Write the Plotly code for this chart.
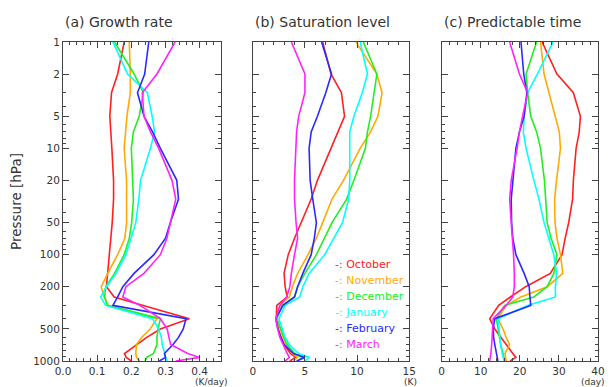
import plotly.graph_objects as go

# Pressure levels (hPa)
levels = [1000, 925, 850, 700, 600, 500, 400, 300, 250, 200, 150, 100, 70, 50, 30, 20, 10, 7, 5, 3, 2, 1]
months = ["October", "November", "December", "January", "February", "March"]
colors = ["#ff2020", "#ffaa00", "#22ee22", "#00ffff", "#2a2aff", "#ff22ff"]

# (a) Growth rate (K/day)
growth_oct = [0.20, 0.185, 0.18, 0.215, 0.245, 0.285, 0.37, 0.235, 0.15, 0.127, 0.131, 0.136, 0.141, 0.144, 0.148, 0.148, 0.143, 0.14, 0.137, 0.142, 0.16, 0.179]
growth_nov = [0.225, 0.215, 0.213, 0.215, 0.23, 0.255, 0.275, 0.133, 0.12, 0.112, 0.131, 0.16, 0.181, 0.186, 0.186, 0.186, 0.179, 0.182, 0.187, 0.197, 0.197, 0.194]
growth_dec = [0.24, 0.245, 0.265, 0.275, 0.275, 0.278, 0.285, 0.13, 0.122, 0.125, 0.151, 0.179, 0.194, 0.201, 0.206, 0.203, 0.2, 0.206, 0.223, 0.235, 0.208, 0.151]
growth_jan = [0.305, 0.30, 0.298, 0.29, 0.288, 0.28, 0.262, 0.125, 0.11, 0.127, 0.155, 0.184, 0.199, 0.213, 0.222, 0.227, 0.256, 0.268, 0.261, 0.247, 0.189, 0.146]
growth_feb = [0.282, 0.30, 0.297, 0.322, 0.338, 0.352, 0.36, 0.146, 0.16, 0.175, 0.208, 0.266, 0.30, 0.314, 0.338, 0.333, 0.285, 0.262, 0.237, 0.218, 0.239, 0.251]
growth_mar = [0.33, 0.40, 0.365, 0.315, 0.31, 0.305, 0.285, 0.225, 0.175, 0.184, 0.237, 0.285, 0.304, 0.314, 0.33, 0.319, 0.28, 0.256, 0.237, 0.232, 0.275, 0.328]

# (b) Saturation level (K)
sat_oct = [3.55, 4.1, 3.6, 3.0, 2.7, 2.45, 2.25, 2.3, 3.3, 3.1, 3.0, 3.4, 4.0, 4.65, 5.6, 6.2, 7.5, 8.1, 8.8, 8.5, 7.5, 6.7]
sat_nov = [3.9, 4.3, 3.8, 3.2, 2.9, 2.6, 2.3, 2.6, 3.5, 3.8, 4.3, 5.3, 6.1, 6.7, 7.6, 8.7, 10.3, 11.3, 12.0, 12.4, 11.9, 9.9]
sat_dec = [4.3, 4.7, 4.0, 3.3, 3.0, 2.7, 2.3, 2.8, 4.0, 4.3, 5.0, 6.1, 6.9, 7.6, 9.0, 9.7, 10.8, 11.0, 11.3, 11.6, 11.9, 10.6]
sat_jan = [5.0, 5.4, 4.4, 3.5, 3.1, 2.8, 2.5, 3.1, 4.5, 4.8, 5.4, 6.9, 7.8, 8.6, 9.2, 9.3, 9.3, 9.3, 9.7, 10.5, 11.0, 10.3]
sat_feb = [4.2, 5.0, 3.9, 3.0, 2.7, 2.4, 2.2, 2.9, 4.0, 4.3, 4.8, 5.6, 5.9, 6.1, 5.75, 5.5, 5.4, 5.6, 6.2, 7.0, 7.55, 6.6]
sat_mar = [3.1, 3.5, 3.3, 2.9, 2.6, 2.4, 2.2, 2.6, 3.25, 3.55, 3.7, 4.0, 4.3, 4.15, 4.0, 4.0, 4.1, 4.2, 4.4, 5.0, 5.0, 3.7]

# (c) Predictable time (day)
pred_oct = [17.5, 19.0, 18.2, 16.5, 15.0, 13.6, 12.3, 14.6, 17.6, 21.5, 27.8, 30.8, 31.6, 32.5, 33.5, 33.7, 34.4, 35.2, 35.5, 33.7, 29.5, 25.7]
pred_nov = [16.5, 16.3, 16.2, 17.4, 16.5, 15.7, 14.4, 16.5, 20.3, 27.0, 31.0, 30.4, 29.5, 29.0, 28.9, 29.4, 30.4, 30.1, 29.1, 27.4, 26.2, 25.3]
pred_dec = [16.1, 16.0, 15.7, 15.1, 14.8, 14.4, 14.0, 16.1, 23.6, 27.0, 28.7, 29.5, 28.0, 27.0, 26.6, 26.3, 25.3, 24.3, 22.8, 22.0, 21.6, 24.3]
pred_jan = [16.0, 15.7, 15.5, 15.1, 14.9, 14.8, 14.4, 22.0, 29.1, 29.1, 29.4, 28.7, 27.4, 26.2, 24.9, 23.6, 21.6, 20.9, 21.1, 22.0, 24.5, 28.5]
pred_feb = [14.4, 14.2, 14.0, 13.6, 13.3, 13.2, 13.6, 22.8, 22.6, 22.4, 21.1, 19.0, 18.2, 17.9, 17.8, 18.2, 19.0, 19.9, 21.1, 21.8, 21.0, 20.3]
pred_mar = [12.3, 12.5, 12.6, 12.8, 12.9, 13.0, 13.2, 16.5, 18.2, 18.6, 18.6, 18.4, 18.0, 17.8, 17.4, 17.8, 19.3, 19.9, 20.7, 22.0, 19.9, 17.4]

growth = [growth_oct, growth_nov, growth_dec, growth_jan, growth_feb, growth_mar]
sat = [sat_oct, sat_nov, sat_dec, sat_jan, sat_feb, sat_mar]
pred = [pred_oct, pred_nov, pred_dec, pred_jan, pred_feb, pred_mar]

y_major = [1, 2, 5, 10, 20, 50, 100, 200, 500, 1000]
y_minor = [3, 4, 6, 7, 8, 9, 30, 40, 60, 70, 80, 90, 300, 400, 600, 700, 800, 900]

FONT = "DejaVu Sans"
TXT = "#333333"

fig = go.Figure()
for i, (series, ax) in enumerate([(growth, ""), (sat, "2"), (pred, "3")]):
    for m, c, vals in zip(months, colors, series):
        fig.add_trace(go.Scatter(x=vals, y=levels, mode="lines", line=dict(color=c, width=1.6),
                                 name=m, showlegend=False, xaxis="x" + ax, yaxis="y" + ax))

common_y = dict(type="log", range=[3, 0], tickvals=y_major, ticks="inside", ticklen=6,
                showline=True, linecolor="#444", linewidth=1, mirror="ticks", showgrid=False,
                zeroline=False, tickcolor="#444",
                minor=dict(tickvals=y_minor, ticks="inside", ticklen=3, tickcolor="#444", showgrid=False),
                tickfont=dict(family=FONT, size=10.5, color=TXT))
common_x = dict(ticks="inside", ticklen=6, showline=True, linecolor="#444", linewidth=1,
                mirror="ticks", showgrid=False, zeroline=False, tickcolor="#444",
                tickfont=dict(family=FONT, size=10.5, color=TXT))

# page body has an 8px default margin; figure is sized so plot lands at the right window pixels
OFF = 8
L, R = 61 - OFF, 8
W = 613 - OFF - L - R
def dom(a, b):
    return [(a - 61) / W, (b - 61) / W]

fig.update_layout(
    width=613 - OFF, height=387 - OFF,
    margin=dict(l=L, r=R, t=42 - OFF, b=26),
    paper_bgcolor="white", plot_bgcolor="white",
    xaxis=dict(common_x, domain=dom(61, 221.7), range=[0, 0.4625], tickvals=[0, 0.1, 0.2, 0.3, 0.4],
               tickformat=".1f", anchor="y",
               minor=dict(dtick=0.02, tick0=0, ticks="inside", ticklen=3, tickcolor="#444")),
    xaxis2=dict(common_x, domain=dom(254, 413), range=[0, 15], tickvals=[0, 5, 10, 15], anchor="y2",
                minor=dict(dtick=1, tick0=0, ticks="inside", ticklen=3, tickcolor="#444")),
    xaxis3=dict(common_x, domain=dom(446, 605), range=[0, 40], tickvals=[0, 10, 20, 30, 40], anchor="y3",
                minor=dict(dtick=2, tick0=0, ticks="inside", ticklen=3, tickcolor="#444")),
    yaxis=dict(common_y, anchor="x", title=dict(text="Pressure [hPa]", standoff=8,
               font=dict(family=FONT, size=13.5, color=TXT))),
    yaxis2=dict(common_y, anchor="x2", showticklabels=False),
    yaxis3=dict(common_y, anchor="x3", showticklabels=False),
)

titles = [("(a) Growth rate", "x domain"), ("(b) Saturation level", "x2 domain"), ("(c) Predictable time", "x3 domain")]
for t, xr in titles:
    fig.add_annotation(text=t, xref=xr, yref="paper", x=0, y=1, yshift=20, xanchor="left",
                       yanchor="middle", showarrow=False, font=dict(family=FONT, size=14, color=TXT))

units = [("(K/day)", "x domain", 0.94), ("(K)", "x2 domain", 1.006), ("(day)", "x3 domain", 0.969)]
for t, xr, xx in units:
    fig.add_annotation(text=t, xref=xr, yref="paper", x=xx, y=0, yshift=-20.5, xanchor="center",
                       yanchor="middle", showarrow=False, font=dict(family=FONT, size=9, color=TXT))

for k, (m, c) in enumerate(zip(months, colors)):
    fig.add_annotation(text="-: " + m, xref="x2 domain", yref="paper", x=0.51, y=0.303 - k * 0.0505,
                       xanchor="left", yanchor="middle", showarrow=False,
                       font=dict(family=FONT, size=11, color=c))

fig.write_html("out.html")
